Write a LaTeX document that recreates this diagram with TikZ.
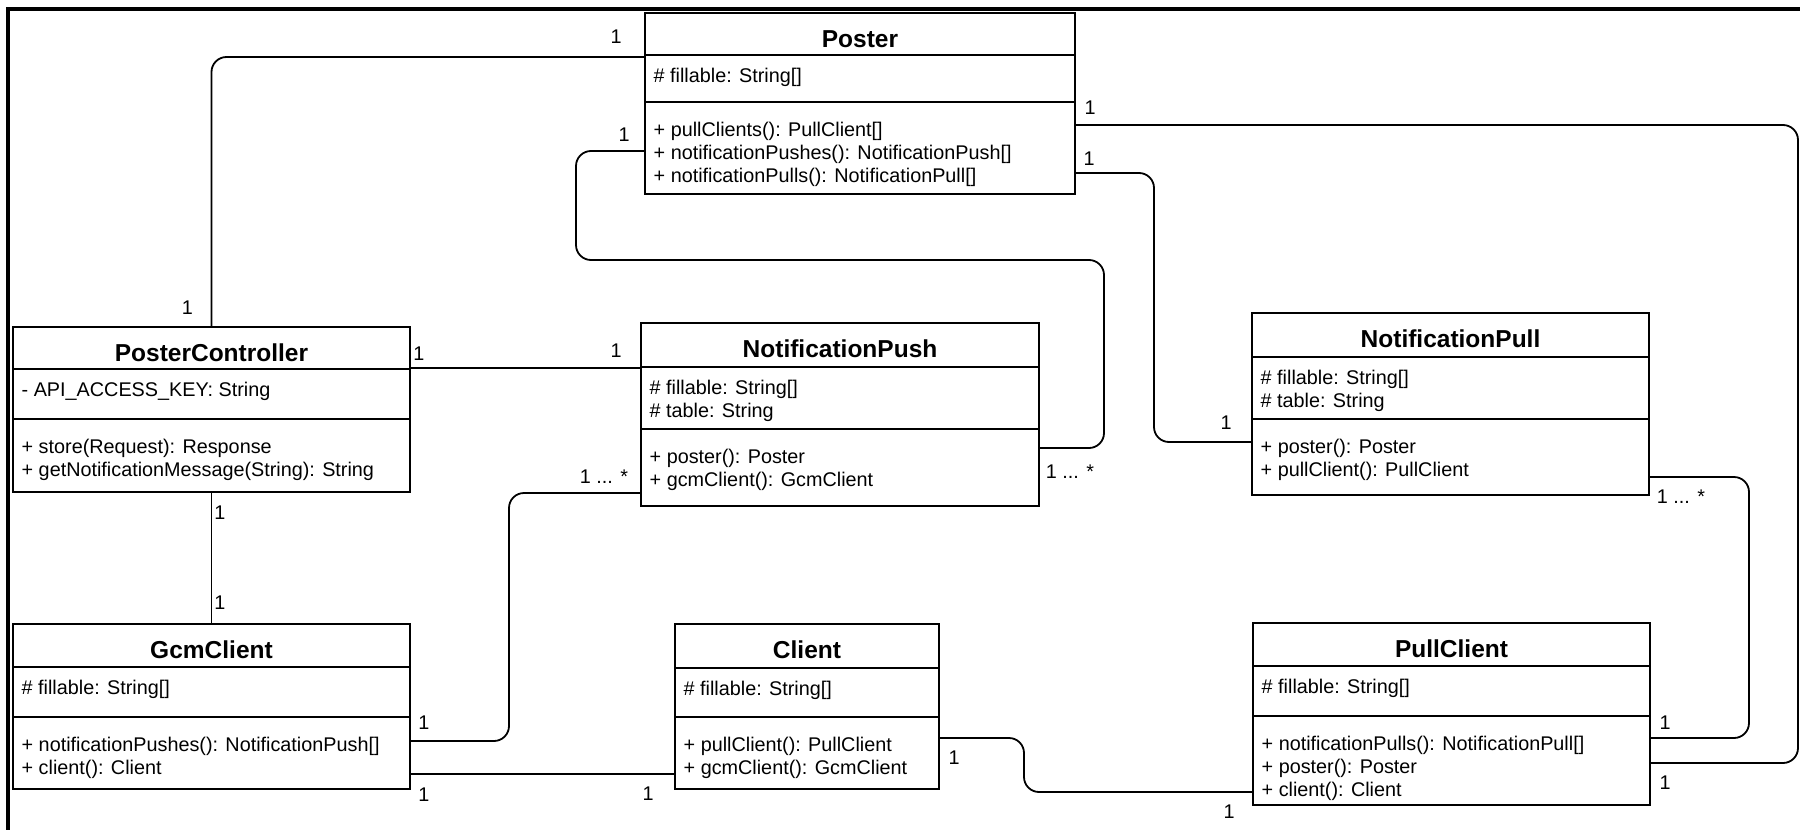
\documentclass[tikz,border=0pt]{standalone}
\usepackage{fontspec}
\setmainfont{Liberation Sans}
\usetikzlibrary{fit}

% class box: #1 name, #2 left, #3 top, #4 right, #5 bottom,
% #6 header divider, #7 attribute divider, #8 class name
\newcommand\umlclass[8]{%
  \node[classbox, fit={(#2,#3) (#4,#5)}] (#1) {};
  \draw[divider] (#1.west |- 0,#6) -- (#1.east |- 0,#6);
  \draw[divider] (#1.west |- 0,#7) -- (#1.east |- 0,#7);
  \node[classtitle] (#1-title) at (#1.north |- 0,{#3+34}) {#8};
}
% one member line: #1 class, #2 tag, #3 baseline, #4 text
\newcommand\umlmember[4]{%
  \node[member] (#1-#2) at (#1.west |- 0,#3) {#4};
}

\begin{document}
\begin{tikzpicture}[x=1pt,y=-1pt,
  classbox/.style={draw=black, line width=2pt, fill=white, inner sep=0pt},
  divider/.style={draw=black, line width=2pt},
  classtitle/.style={font=\fontsize{24.5}{28}\selectfont\bfseries, anchor=base, inner sep=0pt},
  member/.style={font=\fontsize{19.8}{23}\selectfont, anchor=base west, inner sep=0pt, xshift=9.5pt},
  mult/.style={font=\fontsize{19.8}{23}\selectfont, inner sep=0pt},
  conn/.style={draw=black, line width=1.8pt, rounded corners=15pt},
]
\useasboundingbox (0,0) rectangle (1800,830);
\fill[white] (0,0) rectangle (1800,830);

% outer frame
\draw[line width=4pt] (8,850) -- (8,8.5) -- (1820,8.5);

% classes
\umlclass{poster}{645}{13}{1075}{194}{55}{102}{Poster}
\umlmember{poster}{a1}{82.5}{\# fillable: String[]}
\umlmember{poster}{m1}{136.5}{+ pullClients(): PullClient[]}
\umlmember{poster}{m2}{159.5}{+ notificationPushes(): NotificationPush[]}
\umlmember{poster}{m3}{182.5}{+ notificationPulls(): NotificationPull[]}

\umlclass{pc}{13}{327}{410}{492}{369}{419}{PosterController}
\umlmember{pc}{a1}{396.5}{- API\_ACCESS\_KEY: String}
\umlmember{pc}{m1}{453.5}{+ store(Request): Response}
\umlmember{pc}{m2}{476.5}{+ getNotificationMessage(String): String}

\umlclass{npush}{641}{323}{1039}{506}{367}{429}{NotificationPush}
\umlmember{npush}{a1}{394.5}{\# fillable: String[]}
\umlmember{npush}{a2}{417.5}{\# table: String}
\umlmember{npush}{m1}{463.5}{+ poster(): Poster}
\umlmember{npush}{m2}{486.5}{+ gcmClient(): GcmClient}

\umlclass{npull}{1252}{313}{1649}{495}{357}{419}{NotificationPull}
\umlmember{npull}{a1}{384.5}{\# fillable: String[]}
\umlmember{npull}{a2}{407.5}{\# table: String}
\umlmember{npull}{m1}{453.5}{+ poster(): Poster}
\umlmember{npull}{m2}{476.5}{+ pullClient(): PullClient}

\umlclass{gcm}{13}{624}{410}{789}{667}{717}{GcmClient}
\umlmember{gcm}{a1}{694.5}{\# fillable: String[]}
\umlmember{gcm}{m1}{751.5}{+ notificationPushes(): NotificationPush[]}
\umlmember{gcm}{m2}{774.5}{+ client(): Client}

\umlclass{client}{675}{624}{939}{789}{668}{717}{Client}
\umlmember{client}{a1}{695.5}{\# fillable: String[]}
\umlmember{client}{m1}{751.5}{+ pullClient(): PullClient}
\umlmember{client}{m2}{774.5}{+ gcmClient(): GcmClient}

\umlclass{pullc}{1253}{623}{1650}{805}{666}{716}{PullClient}
\umlmember{pullc}{a1}{693.5}{\# fillable: String[]}
\umlmember{pullc}{m1}{750.5}{+ notificationPulls(): NotificationPull[]}
\umlmember{pullc}{m2}{773.5}{+ poster(): Poster}
\umlmember{pullc}{m3}{796.5}{+ client(): Client}

% associations
\draw[conn] (poster.west |- 0,57) -| (pc.north);
\draw[conn] (poster.west |- 0,151) -| (576,260) -| (1104,448) -- (npush.east |- 0,448);
\draw[conn] (poster.east |- 0,173) -| (1154,442) -- (npull.west |- 0,442);
\draw[conn] (poster.east |- 0,125) -| (1798,763) -- (pullc.east |- 0,763);
\draw[conn] (npull.east |- 0,477) -| (1749,738) -- (pullc.east |- 0,738);
\draw[conn] (client.east |- 0,738) -| (1024,792) -- (pullc.west |- 0,792);
\draw[conn] (gcm.east |- 0,774) -- (client.west |- 0,774);
\draw[conn] (gcm.east |- 0,741) -| (509,493) -- (npush.west |- 0,493);
\draw[conn] (pc.east |- 0,368) -- (npush.west |- 0,368);
\draw[conn] (pc.south) -- (gcm.north);

% multiplicities
\node[mult] (mu1) at (616,37) {1};
\node[mult] (mu2) at (187.5,308) {1};
\node[mult] (mu3) at (624,135) {1};
\node[mult] (mu4) at (1070,472) {1 ... *};
\node[mult] (mu5) at (1089,159) {1};
\node[mult] (mu6) at (1226,423) {1};
\node[mult] (mu7) at (1090,108) {1};
\node[mult] (mu8) at (1665,783) {1};
\node[mult] (mu9) at (1681,497) {1 ... *};
\node[mult] (mu10) at (1665,723) {1};
\node[mult] (mu11) at (954,758) {1};
\node[mult] (mu12) at (1229,812) {1};
\node[mult] (mu13) at (424,795) {1};
\node[mult] (mu14) at (648,794) {1};
\node[mult] (mu15) at (424,723) {1};
\node[mult] (mu16) at (604,477) {1 ... *};
\node[mult] (mu17) at (419,354) {1};
\node[mult] (mu18) at (616,351) {1};
\node[mult] (mu19) at (220,513) {1};
\node[mult] (mu20) at (220,603) {1};
\end{tikzpicture}
\end{document}
